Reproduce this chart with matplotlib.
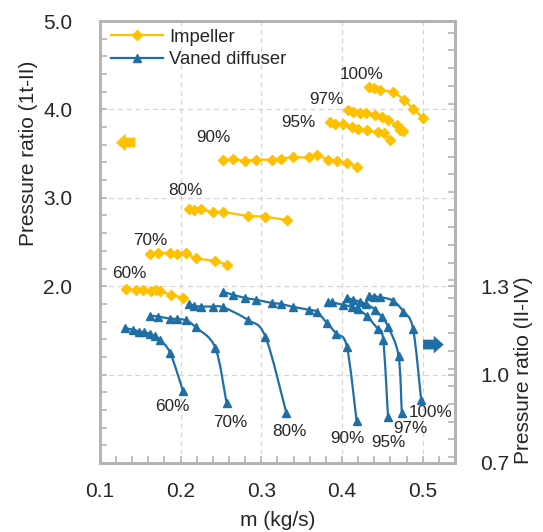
import numpy as np
import matplotlib
matplotlib.use("Agg")
import matplotlib.pyplot as plt
from matplotlib.lines import Line2D
from matplotlib.patches import FancyArrow, PathPatch
from matplotlib.path import Path
from matplotlib.ticker import MultipleLocator, FixedLocator

plt.rcParams['font.family'] = ['Liberation Sans', 'DejaVu Sans']

# -----------------------------
# data
# -----------------------------
speeds = ['60%', '70%', '80%', '90%', '95%', '97%', '100%']

# impeller, pressure ratio (1t-II), left axis
imp_m = [
    [0.132, 0.145, 0.153, 0.163, 0.169, 0.174, 0.188, 0.203],
    [0.162, 0.172, 0.187, 0.195, 0.207, 0.219, 0.243, 0.257],
    [0.211, 0.217, 0.225, 0.240, 0.253, 0.283, 0.305, 0.332],
    [0.252, 0.265, 0.280, 0.294, 0.313, 0.324, 0.339, 0.359, 0.369, 0.383, 0.394, 0.406, 0.418],
    [0.385, 0.391, 0.401, 0.412, 0.420, 0.431, 0.444, 0.452, 0.459],
    [0.407, 0.414, 0.422, 0.430, 0.441, 0.449, 0.457, 0.468, 0.472, 0.475],
    [0.433, 0.440, 0.447, 0.463, 0.477, 0.488, 0.500],
]
imp_pr = [
    [1.970, 1.958, 1.958, 1.950, 1.958, 1.944, 1.905, 1.868],
    [2.364, 2.372, 2.372, 2.368, 2.372, 2.316, 2.285, 2.240],
    [2.871, 2.860, 2.868, 2.841, 2.838, 2.796, 2.785, 2.747],
    [3.424, 3.435, 3.420, 3.431, 3.431, 3.443, 3.458, 3.458, 3.483, 3.430, 3.411, 3.399, 3.354],
    [3.856, 3.837, 3.837, 3.799, 3.781, 3.762, 3.743, 3.732, 3.657],
    [3.988, 3.968, 3.957, 3.962, 3.942, 3.912, 3.875, 3.819, 3.770, 3.751],
    [4.250, 4.239, 4.221, 4.194, 4.108, 4.007, 3.905],
]

# vaned diffuser, pressure ratio (II-IV), right axis
dif_m = [
    [0.131, 0.141, 0.149, 0.155, 0.162, 0.168, 0.174, 0.187, 0.203],
    [0.162, 0.172, 0.187, 0.195, 0.207, 0.219, 0.243, 0.257],
    [0.211, 0.217, 0.225, 0.240, 0.253, 0.283, 0.305, 0.331],
    [0.252, 0.265, 0.280, 0.294, 0.313, 0.324, 0.339, 0.359, 0.369, 0.381, 0.393, 0.406, 0.418],
    [0.382, 0.388, 0.401, 0.412, 0.420, 0.431, 0.444, 0.451, 0.457],
    [0.406, 0.414, 0.422, 0.430, 0.441, 0.449, 0.457, 0.470, 0.474],
    [0.433, 0.440, 0.447, 0.463, 0.476, 0.488, 0.498],
]
dif_pr = [
    [1.158, 1.152, 1.146, 1.144, 1.138, 1.130, 1.119, 1.074, 0.944],
    [1.200, 1.197, 1.190, 1.189, 1.184, 1.160, 1.091, 0.902],
    [1.240, 1.234, 1.231, 1.231, 1.228, 1.186, 1.129, 0.870],
    [1.281, 1.271, 1.260, 1.254, 1.243, 1.240, 1.230, 1.220, 1.213, 1.176, 1.139, 1.095, 0.844],
    [1.247, 1.245, 1.237, 1.230, 1.222, 1.198, 1.155, 1.118, 0.855],
    [1.260, 1.254, 1.247, 1.240, 1.220, 1.196, 1.163, 1.064, 0.871],
    [1.267, 1.265, 1.263, 1.251, 1.214, 1.155, 0.915],
]

# label anchors (left-axis units)
imp_lab_x = [0.136, 0.162, 0.206, 0.240, 0.346, 0.381, 0.424]
imp_lab_y = [2.147, 2.513, 3.078, 3.680, 3.856, 4.112, 4.394]
dif_lab_x = [0.190, 0.262, 0.335, 0.406, 0.458, 0.485, 0.510]
dif_lab_y = [0.643, 0.456, 0.361, 0.275, 0.230, 0.391, 0.568]

YELLOW = '#FFC000'
BLUE = '#1F6FA6'
GRAY = '#B4B4B4'
TXT = '#262626'


def smooth_path(x, y):
    """Excel-like smoothed line through the points (Catmull-Rom as cubic Bezier)."""
    p = np.column_stack([x, y])
    n = len(p)
    verts = [p[0]]
    codes = [Path.MOVETO]
    for i in range(n - 1):
        p0 = p[max(i - 1, 0)]
        p1 = p[i]
        p2 = p[i + 1]
        p3 = p[min(i + 2, n - 1)]
        c1 = p1 + (p2 - p0) / 6.0
        c2 = p2 - (p3 - p1) / 6.0
        verts += [c1, c2, p2]
        codes += [Path.CURVE4] * 3
    return Path(verts, codes)


def draw_series(a, xs, ys, color, marker, ms):
    for m, pr in zip(xs, ys):
        a.add_patch(PathPatch(smooth_path(m, pr), fill=False, ec=color, lw=1.6, zorder=3))
        a.plot(m, pr, ls='none', marker=marker, ms=ms, color=color, mec=color, zorder=3)


fig = plt.figure(figsize=(5.43, 5.32), dpi=100)
ax = fig.add_axes([0.184, 0.1297, 0.654, 0.8308])
ax2 = ax.twinx()

draw_series(ax, imp_m, imp_pr, YELLOW, 'D', 5.2)
draw_series(ax2, dif_m, dif_pr, BLUE, '^', 6.0)

for s, x, y in zip(speeds, imp_lab_x, imp_lab_y):
    ax.text(x, y, s, fontsize=12.3, color=TXT, ha='center', va='center')
for s, x, y in zip(speeds, dif_lab_x, dif_lab_y):
    ax.text(x, y, s, fontsize=12.3, color=TXT, ha='center', va='center')

ax.set_xlim(0.1, 0.54)
ax.set_ylim(0, 5)
ax2.set_ylim(0.7, 2.2)

# ticks
ax.xaxis.set_major_locator(FixedLocator([0.1, 0.2, 0.3, 0.4, 0.5]))
ax.xaxis.set_minor_locator(MultipleLocator(0.02))
ax.set_xticklabels(['0.1', '0.2', '0.3', '0.4', '0.5'])
ax.yaxis.set_major_locator(FixedLocator([1, 2, 3, 4, 5]))
ax.set_yticklabels(['', '2.0', '3.0', '4.0', '5.0'])
ax.yaxis.set_minor_locator(MultipleLocator(0.2))
ax2.yaxis.set_major_locator(FixedLocator([0.7, 1.0, 1.3]))
ax2.set_yticklabels(['0.7', '1.0', '1.3'])
ax2.yaxis.set_minor_locator(MultipleLocator(0.06))

ax.tick_params(axis='both', which='both', direction='in', color=GRAY, length=5,
               width=1.2, labelsize=15, labelcolor=TXT)
ax.tick_params(axis='y', which='both', pad=20, right=False)
ax.tick_params(axis='x', which='both', pad=14, top=False)
ax2.tick_params(axis='y', which='both', direction='in', color=GRAY, length=5,
                width=1.2, labelsize=15, labelcolor=TXT, pad=18)

ax.grid(True, which='major', color='#D6D6D6', lw=0.9, ls=(0, (4, 3)))
for a in (ax, ax2):
    for sp in a.spines.values():
        sp.set_color(GRAY)
        sp.set_linewidth(2.0)

ax.set_xlabel('m (kg/s)', fontsize=15, color=TXT, labelpad=7)
ax.set_ylabel('Pressure ratio (1t-II)', fontsize=15, color=TXT)
ax.yaxis.set_label_coords(-0.175, 0.70)
ax2.set_ylabel('Pressure ratio (II-IV)', fontsize=15, color=TXT)
ax2.yaxis.set_label_coords(1.165, 0.21)

# side arrows pointing at the owning axis
ax.add_patch(FancyArrow(0.100, 0.725, -0.055, 0, width=0.022, head_width=0.04,
                        head_length=0.028, length_includes_head=True,
                        transform=ax.transAxes, color=YELLOW, lw=0, zorder=4))
ax2.add_patch(FancyArrow(0.910, 0.268, 0.058, 0, width=0.022, head_width=0.04,
                         head_length=0.028, length_includes_head=True,
                         transform=ax2.transAxes, color=BLUE, lw=0, zorder=4))

handles = [Line2D([], [], color=YELLOW, lw=1.6, marker='D', ms=5.2),
           Line2D([], [], color=BLUE, lw=1.6, marker='^', ms=6.0)]
leg = ax2.legend(handles, ['Impeller', 'Vaned diffuser'], loc='upper left',
                 bbox_to_anchor=(0.015, 0.995), frameon=False, fontsize=13.3,
                 handlelength=2.8, handletextpad=0.35, labelspacing=0.3,
                 borderaxespad=0.0, borderpad=0.3)
for t in leg.get_texts():
    t.set_color(TXT)

fig.savefig('out.png', dpi=100)
